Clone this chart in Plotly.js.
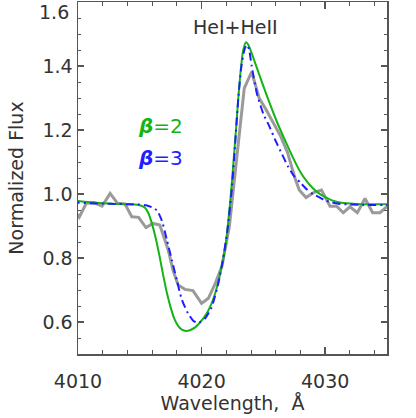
<!DOCTYPE html>
<html>
<head>
<meta charset="utf-8">
<script src="https://cdn.plot.ly/plotly-3.0.1.min.js"></script>
<style>
  html, body { margin: 0; padding: 0; background: #fff; }
  #plot { width: 416px; height: 418px; }
</style>
</head>
<body>
<div id="plot"></div>
<script>
// observed spectrum (gray)
let obsWave = [4009.5, 4010.1, 4010.67, 4011.3, 4011.95, 4012.6, 4013.2, 4013.8, 4014.35, 4014.9,
  4015.5, 4016.07, 4016.62, 4017.3, 4017.7, 4018.1, 4018.65, 4019.3, 4020.0, 4020.55,
  4021.1, 4021.65, 4022.25, 4022.85, 4023.45, 4024.05, 4024.65, 4025.2, 4025.8, 4026.4,
  4026.95, 4027.55, 4027.9, 4028.45, 4029.1, 4029.7, 4030.39, 4030.93, 4031.46, 4032.0,
  4032.6, 4033.22, 4033.84, 4034.43, 4034.98, 4035.5];
let obsFlux = [0.96, 0.928, 0.971, 0.973, 0.962, 1.002, 0.971, 0.969, 0.929, 0.927,
  0.895, 0.908, 0.903, 0.825, 0.76, 0.716, 0.702, 0.698, 0.658, 0.674,
  0.72, 0.775, 0.90, 1.12, 1.33, 1.382, 1.30, 1.265, 1.22, 1.18,
  1.13, 1.05, 1.0125, 0.989, 1.005, 1.012, 0.962, 0.962, 0.9415, 0.960,
  0.9415, 0.986, 0.9415, 0.9415, 0.96, 0.96];

// model beta = 2 (green)
let beta2Wave = [4009.5, 4010, 4011, 4012, 4013, 4014, 4014.6, 4015.0, 4015.4, 4015.7,
  4016.0, 4016.3, 4016.6, 4016.9, 4017.2, 4017.5, 4017.8, 4018.1, 4018.4, 4018.75,
  4019.1, 4019.5, 4019.9, 4020.3, 4020.7, 4021.1, 4021.5, 4021.9, 4022.3, 4022.56,
  4022.78, 4022.97, 4023.2, 4023.37, 4023.59, 4023.8, 4024.05, 4024.6, 4025.3, 4026.1,
  4026.9, 4027.5, 4028.0, 4028.5, 4029.0, 4029.5, 4030.0, 4030.5, 4031.0, 4031.7,
  4032.5, 4033.5, 4035.5];
let beta2Flux = [0.98, 0.978, 0.974, 0.971, 0.969, 0.968, 0.967, 0.965, 0.958, 0.94,
  0.905, 0.86, 0.805, 0.745, 0.69, 0.645, 0.61, 0.588, 0.576, 0.572,
  0.575, 0.584, 0.600, 0.620, 0.648, 0.69, 0.75, 0.83, 0.97, 1.09,
  1.2, 1.30, 1.40, 1.45, 1.474, 1.465, 1.44, 1.38, 1.305, 1.225,
  1.155, 1.105, 1.068, 1.04, 1.018, 1.002, 0.99, 0.981, 0.975, 0.971,
  0.969, 0.968, 0.968];

// model beta = 3 (blue)
let beta3Wave = [4009.5, 4010, 4011, 4012, 4013, 4014, 4015, 4015.5, 4016.0, 4016.4,
  4016.8, 4017.2, 4017.6, 4018.0, 4018.4, 4018.9, 4019.3, 4019.6, 4019.9, 4020.3,
  4020.8, 4021.35, 4021.75, 4022.1, 4022.43, 4022.7, 4022.97, 4023.24, 4023.5, 4023.68,
  4023.85, 4024.05, 4024.5, 4025.0, 4025.5, 4026.0, 4026.5, 4027.0, 4027.5, 4028.0,
  4028.5, 4029.0, 4029.5, 4030.0, 4030.5, 4031.0, 4032.0, 4033.0, 4035.5];
let beta3Flux = [0.975, 0.973, 0.971, 0.970, 0.969, 0.968, 0.967, 0.965, 0.958, 0.948,
  0.915, 0.855, 0.792, 0.73, 0.67, 0.627, 0.605, 0.598, 0.600, 0.612,
  0.645, 0.72, 0.80, 0.89, 1.01, 1.148, 1.30, 1.405, 1.455, 1.466,
  1.45, 1.40, 1.31, 1.25, 1.21, 1.165, 1.125, 1.085, 1.055, 1.035,
  1.015, 1.0, 0.99, 0.98, 0.974, 0.97, 0.967, 0.966, 0.966];

// y tick labels (top one is placed by hand, it sits inside the frame)
let yTickVals = [0.6, 0.8, 1.0, 1.2, 1.4, 1.6];
let yTickText = ['0.6', '0.8', '1.0', '1.2', '1.4', ''];

let fontFam = 'DejaVu Sans, sans-serif';
let textCol = '#333333';
let frameCol = '#555555';

let traceObs = {
  x: obsWave,
  y: obsFlux,
  type: 'scatter',
  mode: 'lines',
  line: {color: '#9a9a9a', width: 3},
  hoverinfo: 'skip'
};
let traceB2 = {
  x: beta2Wave,
  y: beta2Flux,
  type: 'scatter',
  mode: 'lines',
  line: {color: 'rgb(20,180,20)', width: 2, shape: 'spline', smoothing: 0.6},
  hoverinfo: 'skip'
};
let traceB3 = {
  x: beta3Wave,
  y: beta3Flux,
  type: 'scatter',
  mode: 'lines',
  line: {color: 'rgb(30,30,255)', width: 2, dash: '8px,4px,2px,4px', shape: 'spline', smoothing: 0.6},
  hoverinfo: 'skip'
};

let data = [traceObs, traceB2, traceB3];

let layout = {
  width: 416,
  height: 418,
  margin: {l: 78, r: 29, t: 2, b: 64},
  paper_bgcolor: '#ffffff',
  plot_bgcolor: '#ffffff',
  showlegend: false,
  font: {family: fontFam, size: 19, color: textCol},
  xaxis: {
    range: [4010, 4035],
    tick0: 4010,
    dtick: 10,
    ticks: 'inside',
    ticklen: 7,
    tickwidth: 1.5,
    tickcolor: frameCol,
    ticklabelstandoff: 10,
    showline: true,
    linecolor: frameCol,
    linewidth: 1.5,
    mirror: 'ticks',
    showgrid: false,
    zeroline: false,
    minor: {dtick: 2, ticks: 'inside', ticklen: 4, tickwidth: 1, tickcolor: frameCol, showgrid: false},
    tickfont: {family: fontFam, size: 19, color: textCol},
    title: {text: 'Wavelength,  Å', font: {family: fontFam, size: 19, color: textCol}, standoff: 4}
  },
  yaxis: {
    range: [0.5, 1.6],
    tickmode: 'array',
    tickvals: yTickVals,
    ticktext: yTickText,
    ticks: 'inside',
    ticklen: 6,
    tickwidth: 1.5,
    tickcolor: frameCol,
    showline: true,
    linecolor: frameCol,
    linewidth: 1.5,
    mirror: 'ticks',
    showgrid: false,
    zeroline: false,
    minor: {tickmode: 'linear', tick0: 0.5, dtick: 0.05, ticks: 'inside', ticklen: 3, tickwidth: 1, tickcolor: frameCol, showgrid: false},
    tickfont: {family: fontFam, size: 19, color: textCol},
    title: {text: 'Normalized Flux', font: {family: fontFam, size: 19, color: textCol}, standoff: 14}
  },
  annotations: [
    {x: 0, y: 1.6, xref: 'paper', yref: 'y', text: '1.6', showarrow: false,
      xanchor: 'right', yanchor: 'middle', yshift: -10, font: {size: 19, color: textCol}},
    {x: 4022.74, y: 1.522, xref: 'x', yref: 'y', text: 'HeI+HeII', showarrow: false,
      font: {size: 19, color: textCol}},
    {x: 4016.67, y: 1.2125, xref: 'x', yref: 'y', text: '<b><i>β</i></b>=2', showarrow: false,
      font: {size: 20, color: 'rgb(20,180,20)'}},
    {x: 4016.67, y: 1.1125, xref: 'x', yref: 'y', text: '<b><i>β</i></b>=3', showarrow: false,
      font: {size: 20, color: 'rgb(30,30,255)'}}
  ]
};

// the hand-placed "1.6" sits left of the frame, in paper units
layout.annotations[0].x = -7 / (416 - 78 - 29);

Plotly.newPlot('plot', data, layout, {staticPlot: true});
</script>
</body>
</html>
